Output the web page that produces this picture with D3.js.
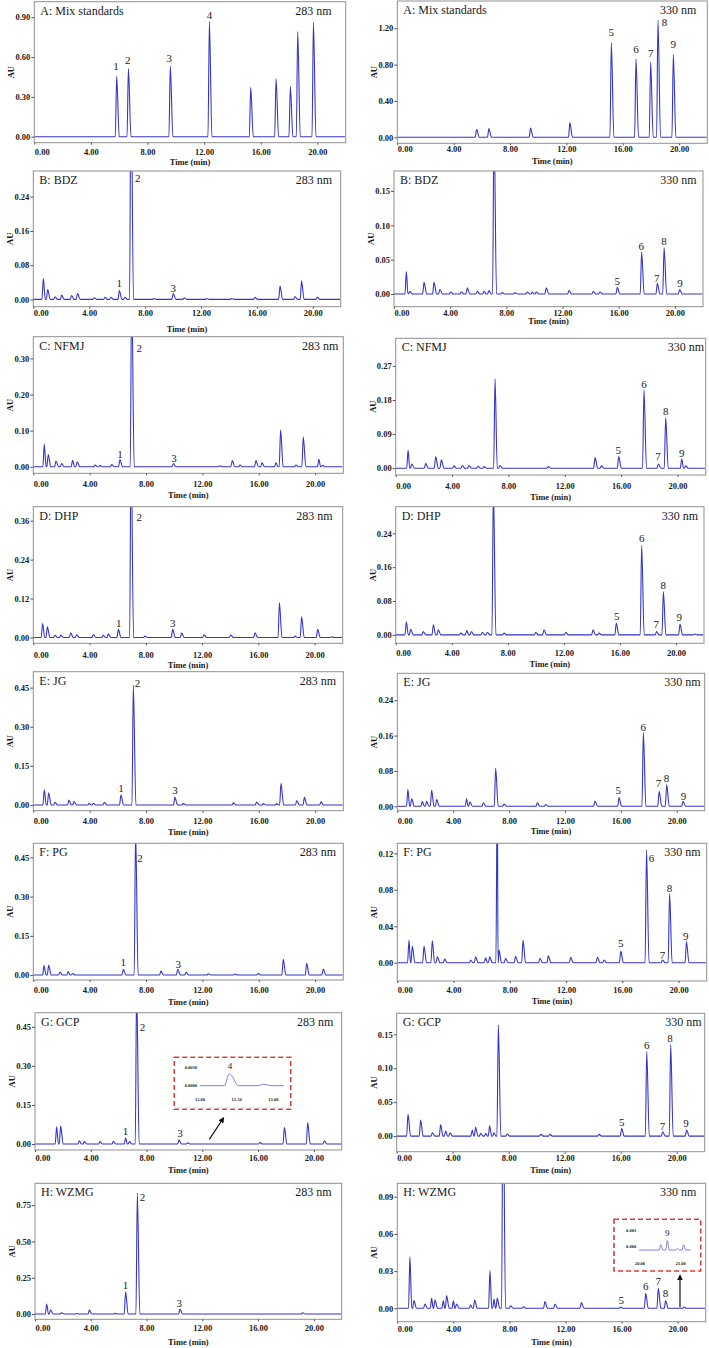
<!DOCTYPE html>
<html>
<head>
<meta charset="utf-8">
<style>
  body { margin:0; background:#fff; }
  svg text { font-family:"Liberation Serif","Times New Roman",serif; fill:#1a1a1a; }
  .tick text { font-size:8.5px; font-weight:bold; fill:#1a1a1a; }
  .tick line { stroke:#555; }
  .frame { fill:none; stroke:#8f8f8f; stroke-width:1; }
  .trace { fill:none; stroke:#3535c8; stroke-width:1.1; }
  .inset-trace { fill:none; stroke:#7d7de0; stroke-width:1; }
  .inset-box { fill:none; stroke:#e03a3a; stroke-width:1.6; stroke-dasharray:5,3; }
  .axis-title { font-size:8.5px; font-weight:bold; }
  .title { font-size:12px; }
  .peak { font-size:11px; }
</style>
</head>
<body>
<div id="chart"></div>
<script src="https://cdnjs.cloudflare.com/ajax/libs/d3/7.8.5/d3.min.js"></script>
<script>

// ---- data: [time (min), AU] ----
var timeTicks = [0, 4, 8, 12, 16, 20];
var samples = ["A: Mix standards", "B: BDZ", "C: NFMJ", "D: DHP", "E: JG", "F: PG", "G: GCP", "H: WZMG"];
var wavelengths = ["283 nm", "330 nm"];

var yTicks283 = [[0,0.3,0.6,0.9],[0,0.08,0.16,0.24],[0,0.1,0.2,0.3],[0,0.12,0.24,0.36],
                 [0,0.15,0.3,0.45],[0,0.15,0.3,0.45],[0,0.15,0.3,0.45],[0,0.25,0.5,0.75]];
var yTicks330 = [[0,0.4,0.8,1.2],[0,0.05,0.1,0.15],[0,0.09,0.18,0.27],[0,0.08,0.16,0.24],
                 [0,0.08,0.16,0.24],[0,0.04,0.08,0.12],[0,0.05,0.1,0.15],[0,0.03,0.06,0.09]];

var mix283 = [[5.82,0.457],[6.65,0.513],[9.61,0.533],[12.37,0.867],[15.29,0.372],[17.08,0.437],[18.09,0.377],[18.61,0.792],[19.72,0.862]];
var mix330 = [[5.63,0.089],[6.5,0.096],[9.46,0.103],[12.25,0.162],[15.19,1.041],[16.94,0.864],[17.98,0.827],[18.5,1.289],[19.59,0.912]];
var bdz283 = [[0.72,0.049],[1.03,0.023],[1.55,0.006],[2.03,0.010],[2.74,0.009],[3.17,0.014],[4.37,0.004],[5.13,0.005],[5.56,0.005],[6.16,0.021],[6.56,0.005],[6.99,0.55],[8.64,0.002],[10.02,0.014],[10.81,0.004],[12.41,0.002],[14.2,0.002],[15.87,0.005],[17.66,0.031],[18.73,0.007],[19.2,0.043],[20.33,0.005]];
var bdz330 = [[0.88,0.0325],[1.13,0.004],[2.14,0.017],[2.85,0.017],[3.27,0.007],[4.03,0.003],[4.79,0.003],[5.22,0.009],[5.93,0.004],[6.41,0.004],[6.76,0.005],[7.12,0.25],[7.71,0.002],[8.61,0.002],[9.49,0.003],[9.85,0.003],[10.13,0.003],[10.84,0.009],[12.46,0.005],[14.19,0.004],[14.66,0.003],[15.9,0.0097],[17.63,0.061],[18.75,0.0155],[19.23,0.0675],[20.34,0.0063]];
var nfmj283 = [[0.78,0.063],[1.06,0.034],[1.61,0.016],[2.01,0.009],[2.79,0.018],[3.12,0.014],[4.38,0.005],[4.73,0.004],[5.56,0.006],[6.15,0.020],[6.98,0.5],[9.94,0.009],[13.25,0.003],[14.12,0.017],[14.67,0.005],[15.8,0.017],[16.23,0.011],[17.22,0.011],[17.55,0.102],[18.64,0.005],[19.16,0.083],[20.27,0.021],[20.53,0.004]];
var nfmj330 = [[0.88,0.047],[1.14,0.011],[2.13,0.013],[2.84,0.031],[3.24,0.022],[4.14,0.006],[4.73,0.007],[5.2,0.007],[5.84,0.005],[6.27,0.004],[7.05,0.236],[7.4,0.007],[10.83,0.004],[14.15,0.028],[14.6,0.006],[15.83,0.031],[17.62,0.207],[18.64,0.011],[19.16,0.134],[20.3,0.024],[20.59,0.006]];
var dhp283 = [[0.66,0.043],[1.0,0.033],[1.54,0.007],[1.97,0.007],[2.66,0.014],[3.08,0.008],[4.27,0.009],[4.98,0.007],[5.33,0.011],[6.05,0.025],[6.95,0.6],[7.94,0.004],[9.91,0.025],[10.55,0.014],[12.14,0.008],[14.04,0.008],[15.77,0.014],[17.5,0.107],[18.61,0.004],[19.08,0.064],[20.22,0.025],[21.21,0.002]];
var dhp330 = [[0.76,0.031],[1.07,0.013],[1.97,0.008],[2.69,0.024],[3.04,0.012],[4.64,0.004],[5.07,0.010],[5.4,0.008],[6.18,0.006],[6.54,0.006],[6.97,0.35],[7.73,0.004],[9.99,0.006],[10.58,0.012],[12.13,0.006],[14.08,0.012],[14.51,0.004],[15.74,0.028],[17.55,0.212],[18.62,0.008],[19.1,0.102],[20.29,0.025],[21.33,0.002]];
var jg283 = [[0.78,0.058],[1.09,0.047],[1.54,0.010],[2.53,0.019],[2.89,0.013],[3.97,0.006],[4.26,0.006],[5.04,0.010],[6.22,0.038],[7.1,0.46],[10.05,0.029],[10.64,0.006],[14.2,0.008],[15.85,0.011],[16.33,0.005],[17.27,0.005],[17.58,0.083],[18.7,0.017],[19.24,0.029],[20.42,0.012]];
var jg330 = [[0.76,0.038],[1.03,0.017],[1.79,0.011],[2.1,0.011],[2.46,0.036],[2.82,0.015],[4.96,0.017],[5.2,0.010],[6.16,0.008],[7.04,0.086],[7.64,0.005],[10.02,0.008],[10.62,0.004],[14.15,0.012],[15.87,0.020],[17.61,0.167],[18.74,0.034],[19.28,0.049],[20.45,0.011]];
var pg283 = [[0.76,0.036],[1.09,0.037],[1.89,0.011],[2.48,0.013],[2.79,0.006],[6.39,0.022],[7.26,0.55],[9.06,0.015],[10.25,0.022],[10.84,0.010],[12.42,0.005],[14.31,0.004],[15.97,0.006],[17.74,0.060],[19.4,0.045],[20.58,0.023]];
var pg330 = [[0.83,0.025],[1.07,0.018],[1.9,0.018],[2.49,0.024],[2.85,0.0066],[3.37,0.004],[5.22,0.003],[5.57,0.0066],[6.28,0.0055],[6.57,0.0066],[7.11,0.2],[7.23,0.014],[7.7,0.005],[8.41,0.007],[8.94,0.0245],[10.15,0.005],[10.74,0.0077],[12.33,0.006],[14.23,0.006],[14.7,0.003],[15.89,0.0128],[17.72,0.124],[18.86,0.003],[19.36,0.076],[20.56,0.023]];
var gcp283 = [[1.55,0.066],[1.84,0.069],[3.18,0.012],[3.54,0.010],[4.66,0.009],[5.62,0.010],[6.5,0.024],[6.77,0.009],[7.29,0.6],[10.33,0.015],[10.95,0.005],[16.14,0.006],[17.89,0.063],[19.56,0.082],[20.76,0.012]];
var gcp330 = [[0.81,0.032],[1.71,0.0236],[2.55,0.005],[3.14,0.017],[3.5,0.0074],[3.81,0.005],[5.4,0.0089],[5.64,0.0128],[6.0,0.004],[6.36,0.004],[6.64,0.015],[6.95,0.005],[7.26,0.164],[7.9,0.003],[10.29,0.0025],[10.95,0.0025],[14.45,0.0025],[16.07,0.0113],[17.86,0.1245],[19.0,0.0064],[19.57,0.135],[20.71,0.0089]];
var wzmg283 = [[0.84,0.069],[1.12,0.030],[1.91,0.009],[2.99,0.004],[3.9,0.0275],[5.74,0.005],[6.5,0.154],[7.34,0.835],[10.4,0.034],[19.2,0.009]];
var wzmg330 = [[0.9,0.0416],[1.19,0.0062],[1.97,0.0035],[2.45,0.008],[2.69,0.0067],[3.28,0.006],[3.52,0.0102],[4.0,0.006],[4.23,0.0035],[5.23,0.0027],[5.52,0.0067],[6.61,0.0304],[6.9,0.0075],[7.13,0.008],[7.54,0.2],[8.09,0.002],[8.99,0.0013],[10.53,0.0054],[11.25,0.0035],[13.13,0.0046],[15.93,0.001],[17.72,0.0121],[18.62,0.0161],[19.14,0.006],[20.46,0.001]];

// peak numbers: [label, time, AU]
var mix283Labels = [["1",5.77,0.528],["2",6.6,0.578],["3",9.54,0.59],["4",12.37,0.917]];
var mix330Labels = [["5",15.19,1.152],["6",16.94,0.967],["7",17.98,0.93],["8",18.97,1.27],["9",19.59,1.023]];
var bdz283Labels = [["1",6.16,0.0374],["2",7.47,0.283],["3",10.02,0.0273]];
var bdz330Labels = [["5",15.9,0.0189],["6",17.61,0.0689],["7",18.7,0.0228],["8",19.22,0.0772],["9",20.36,0.0155]];
var nfmj283Labels = [["1",6.15,0.034],["2",7.52,0.328],["3",9.98,0.025]];
var nfmj330Labels = [["5",15.8,0.048],["6",17.62,0.2225],["7",18.62,0.031],["8",19.16,0.1495],["9",20.3,0.0396]];
var dhp283Labels = [["1",6.07,0.043],["2",7.54,0.372],["3",9.91,0.043]];
var dhp330Labels = [["5",15.77,0.0448],["6",17.55,0.228],["7",18.6,0.026],["8",19.1,0.118],["9",20.24,0.0417]];
var jg283Labels = [["1",6.22,0.064],["2",7.4,0.467],["3",10.05,0.0575]];
var jg330Labels = [["5",15.82,0.0356],["6",17.61,0.179],["7",18.69,0.0515],["8",19.26,0.0628],["9",20.48,0.0227]];
var pg283Labels = [["1",6.39,0.051],["2",7.57,0.449],["3",10.29,0.042]];
var pg330Labels = [["5",15.88,0.022],["6",18.07,0.1145],["7",18.85,0.0084],["8",19.35,0.0823],["9",20.51,0.0296]];
var gcp283Labels = [["1",6.5,0.051],["2",7.72,0.45],["3",10.4,0.0435]];
var gcp330Labels = [["5",16.07,0.0202],["6",17.86,0.134],["7",18.98,0.0148],["8",19.52,0.144],["9",20.67,0.0187]];
var wzmg283Labels = [["1",6.5,0.2],["2",7.72,0.807],["3",10.35,0.078]];
var wzmg330Labels = [["5",15.98,0.0067],["6",17.72,0.0175],["7",18.62,0.0223],["8",19.14,0.0121]];

// zoomed insets
var gcpInset = [[12.4,0.0025],[12.86,0.0003]];
var gcpInsetLabel = ["4",12.41,0.0042];
var wzmgInset = [[20.51,0.00036],[20.67,0.00108],[20.92,-0.0003],[21.07,0.00036]];
var wzmgInsetLabel = ["9",20.67,0.0024];

// ---- layout (pixels) ----
var frameLeft = [[34.3,1.7,345.7,142.7],[33.3,171,340.7,306.7],[33.3,336.7,343.3,473.3],[33.3,506.7,342.7,643.3],
                 [33.3,671.7,343.3,810.7],[33.3,843.3,343.3,980],[35,1012.7,341.7,1150],[35,1183.3,341.7,1319.3]];
var frameRight = [[397.3,1,707.3,143.3],[394,171,703,306.7],[395.7,338.3,705.7,475],[395.7,506.7,704,643.3],
                  [397.3,673.3,704.7,810.7],[397.3,843.3,706.7,981],[396.7,1013.3,704.7,1151.7],[397.3,1183.3,705.7,1321.7]];
var yDomLeft = [[-0.045,1.017],[-0.017,0.30],[-0.018,0.36],[-0.018,0.403],[-0.022,0.511],[-0.019,0.504],[-0.023,0.504],[-0.036,0.9]];
var yDomRight = [[-0.066,1.5],[-0.0185,0.179],[-0.018,0.343],[-0.02,0.303],[-0.01,0.301],[-0.02,0.131],[-0.023,0.181],[-0.0108,0.1008]];
var xLabYLeft = [151.7,311.7,484,655,820.7,990,1157.7,1327.7];
var xLabYRight = [148.3,311.7,485.7,653.3,820.7,990,1157.7,1329.3];
var timeYLeft = [162.3,329,495,665,831.7,1001.7,1170,1341.7];
var timeYRight = [161,320.7,496.7,664,830.7,1001,1170,1341.7];
var nmXLeft = [331.7,332,338.3,332.7,336,336,333.3,331.7];
var nmXRight = [696.3,696.7,704,698,700.7,700.7,701.7,696.3];

var W = 709, H = 1348;
var svg = d3.select("#chart").append("svg").attr("width", W).attr("height", H);

svg.append("defs").append("marker")
  .attr("id", "arrow").attr("viewBox", "0 0 10 10").attr("refX", 8).attr("refY", 5)
  .attr("markerWidth", 5).attr("markerHeight", 5).attr("orient", "auto")
  .append("path").attr("d", "M0,0 L10,5 L0,10 z").attr("fill", "#111");

// turn a list of [time, height] apexes into a polyline with a baseline on each side
function trace(peaks, t0, t1, base, rise, fall) {
  var s = peaks.slice().sort(function (a, b) { return a[0] - b[0]; });
  var pts = [[t0, base]];
  s.forEach(function (p, i) {
    var prev = i ? s[i - 1][0] : t0;
    var next = i < s.length - 1 ? s[i + 1][0] : t1;
    var a = Math.min(rise, (p[0] - prev) * 0.45);
    var b = Math.min(fall, (next - p[0]) * 0.45);
    pts.push([p[0] - a, base], [p[0], p[1]], [p[0] + b, base]);
  });
  pts.push([t1, base]);
  return pts;
}

var peakSets = [[mix283, mix330], [bdz283, bdz330], [nfmj283, nfmj330], [dhp283, dhp330],
                [jg283, jg330], [pg283, pg330], [gcp283, gcp330], [wzmg283, wzmg330]];
var labelSets = [[mix283Labels, mix330Labels], [bdz283Labels, bdz330Labels], [nfmj283Labels, nfmj330Labels],
                 [dhp283Labels, dhp330Labels], [jg283Labels, jg330Labels], [pg283Labels, pg330Labels],
                 [gcp283Labels, gcp330Labels], [wzmg283Labels, wzmg330Labels]];

var panels = [];
samples.forEach(function (name, r) {
  panels.push({ id: "L" + r, name: name, nm: wavelengths[0], peaks: peakSets[r][0], labels: labelSets[r][0],
    ticks: yTicks283[r], f: frameLeft[r], yDom: yDomLeft[r], xLabY: xLabYLeft[r], timeY: timeYLeft[r], nmX: nmXLeft[r] });
  panels.push({ id: "R" + r, name: name, nm: wavelengths[1], peaks: peakSets[r][1], labels: labelSets[r][1],
    ticks: yTicks330[r], f: frameRight[r], yDom: yDomRight[r], xLabY: xLabYRight[r], timeY: timeYRight[r], nmX: nmXRight[r] });
});

panels.forEach(function (p) {
  var f = p.f;
  var x = d3.scaleLinear().domain([0, 22]).range([f[0], f[2]]);
  var y = d3.scaleLinear().domain(p.yDom).range([f[3], f[1]]);
  var g = svg.append("g");

  g.append("clipPath").attr("id", "clip" + p.id)
    .append("rect").attr("x", f[0]).attr("y", f[1]).attr("width", f[2] - f[0]).attr("height", f[3] - f[1]);

  var line = d3.line().x(function (d) { return x(d[0]); }).y(function (d) { return y(d[1]); })
    .curve(d3.curveMonotoneX);

  g.append("path").datum(trace(p.peaks, 0, 21.95, 0, 0.1, 0.18))
    .attr("class", "trace").attr("clip-path", "url(#clip" + p.id + ")").attr("d", line);

  g.append("rect").attr("class", "frame")
    .attr("x", f[0]).attr("y", f[1]).attr("width", f[2] - f[0]).attr("height", f[3] - f[1]);

  var ya = g.append("g").attr("transform", "translate(" + f[0] + ",0)")
    .call(d3.axisLeft(y).tickValues(p.ticks).tickSize(3).tickPadding(1).tickFormat(d3.format(".2f")));
  ya.select(".domain").remove();

  var pad = Math.max(1, p.xLabY - f[3] - 5);
  var xa = g.append("g").attr("transform", "translate(0," + f[3] + ")")
    .call(d3.axisBottom(x).tickValues(timeTicks).tickSize(2).tickPadding(pad).tickFormat(d3.format(".2f")));
  xa.select(".domain").remove();
  xa.selectAll(".tick text").filter(function (d) { return d === 0; }).attr("text-anchor", "start");
  g.selectAll(".tick text").attr("fill", "#1a1a1a");

  g.append("text").attr("class", "axis-title")
    .attr("transform", "translate(" + (f[0] - 23) + "," + ((f[1] + f[3]) / 2) + ") rotate(-90)")
    .attr("text-anchor", "middle").attr("dy", "0.35em").text("AU");

  g.append("text").attr("class", "axis-title")
    .attr("x", (f[0] + f[2]) / 2).attr("y", p.timeY).attr("dy", "0.35em")
    .attr("text-anchor", "middle").text("Time (min)");

  g.append("text").attr("class", "title").attr("x", f[0] + 6).attr("y", f[1] + 13).text(p.name);
  g.append("text").attr("class", "title").attr("x", p.nmX).attr("y", f[1] + 13)
    .attr("text-anchor", "end").text(p.nm);

  g.selectAll("text.peak").data(p.labels).enter().append("text").attr("class", "peak")
    .attr("x", function (d) { return x(d[1]); }).attr("y", function (d) { return y(d[2]); })
    .attr("dy", "0.35em").attr("text-anchor", "middle").text(function (d) { return d[0]; });
});

// zoom-in boxes
function drawInset(o) {
  var g = svg.append("g");
  g.append("rect").attr("class", "inset-box")
    .attr("x", o.box[0]).attr("y", o.box[1]).attr("width", o.box[2] - o.box[0]).attr("height", o.box[3] - o.box[1]);
  var x = d3.scaleLinear().domain(o.xDom).range(o.xRange);
  var y = d3.scaleLinear().domain(o.yDom).range(o.yRange);
  var line = d3.line().x(function (d) { return x(d[0]); }).y(function (d) { return y(d[1]); })
    .curve(d3.curveMonotoneX);
  g.append("path").datum(trace(o.peaks, o.xDom[0], o.xDom[1], o.base, o.rise, o.fall))
    .attr("class", "inset-trace").attr("d", line);
  g.selectAll("text.iy").data(o.yTicks).enter().append("text")
    .attr("x", x(o.xDom[0]) - 3).attr("y", function (d) { return y(d); }).attr("dy", "0.35em")
    .attr("text-anchor", "end").style("font-size", "4.5px").style("font-weight", "bold")
    .text(function (d) { return d3.format(o.yFmt)(d); });
  g.selectAll("text.ix").data(o.xTicks).enter().append("text")
    .attr("x", function (d) { return x(d); }).attr("y", o.xLabY).attr("dy", "0.35em")
    .attr("text-anchor", "middle").style("font-size", "4.5px").style("font-weight", "bold")
    .text(function (d) { return d3.format(".2f")(d); });
  g.append("text").attr("x", x(o.label[1])).attr("y", y(o.label[2])).attr("dy", "0.35em")
    .attr("text-anchor", "middle").style("font-size", "9px").text(o.label[0]);
  g.append("line").attr("x1", o.arrow[0]).attr("y1", o.arrow[1]).attr("x2", o.arrow[2]).attr("y2", o.arrow[3])
    .attr("stroke", "#111").attr("stroke-width", 1.2).attr("marker-end", "url(#arrow)");
}

drawInset({ box: [174.3, 1057.3, 290.7, 1109.3], peaks: gcpInset, base: 0, rise: 0.07, fall: 0.13,
  xDom: [12, 13.14], xRange: [200, 283.6], yDom: [0, 0.0038], yRange: [1085.7, 1067.7],
  yTicks: [0, 0.0038], yFmt: ".4f", xTicks: [12, 12.5, 13], xLabY: 1099, label: gcpInsetLabel,
  arrow: [209.3, 1139.3, 223.5, 1118] });

drawInset({ box: [614, 1219.3, 700.7, 1271], peaks: wzmgInset, base: -0.0006, rise: 0.04, fall: 0.05,
  xDom: [19.98, 21.25], xRange: [639.2, 690.9], yDom: [0, 0.003], yRange: [1246.7, 1230],
  yTicks: [0, 0.003], yFmt: ".3f", xTicks: [20, 21], xLabY: 1263.3, label: wzmgInsetLabel,
  arrow: [680, 1307.3, 680, 1275.5] });

</script>
</body>
</html>
